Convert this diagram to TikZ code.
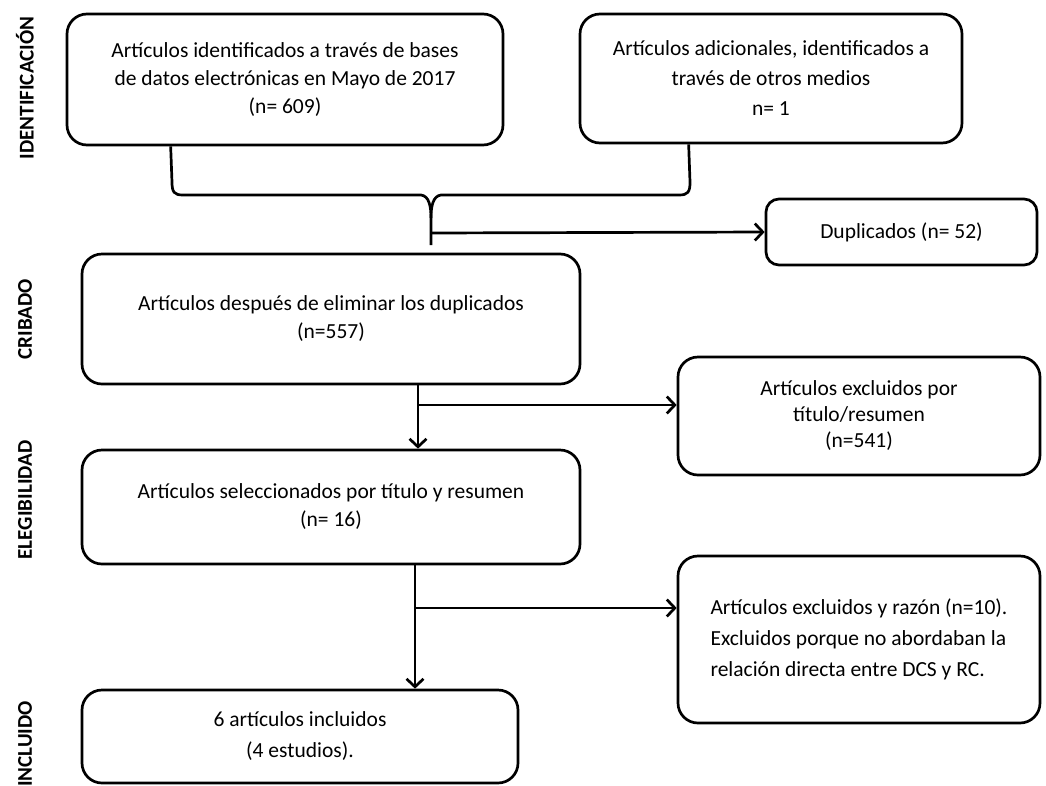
\documentclass[tikz,border=0pt]{standalone}
\usepackage{fontspec}
\setmainfont{Carlito}
\usetikzlibrary{arrows.meta}
\begin{document}
\begin{tikzpicture}[x=1pt,y=-1pt,
  box/.style={draw, line width=2.7pt, rounded corners=20pt, align=center,
    font=\fontsize{21.5}{28}\selectfont, inner sep=0pt},
  phase/.style={rotate=90, font=\bfseries\fontsize{21}{24}\selectfont, inner sep=0pt},
  conn/.style={line width=2.7pt},
  arr/.style={conn, -{Straight Barb[length=8pt,width=17pt,line width=2.7pt]}}]
\useasboundingbox (0,0) rectangle (1046,785);

% phase labels
\node[phase] (lid)  at (25,88)  {IDENTIFICACIÓN};
\node[phase] (lcr)  at (25,319) {CRIBADO};
\node[phase] (lel)  at (25,500) {ELEGIBILIDAD};
\node[phase] (lin)  at (25,744) {INCLUIDO};

% boxes
\node[box, minimum width=436pt, minimum height=131pt] (b1) at (285,79.5)
  {Artículos identificados a través de bases\\de datos electrónicas en Mayo de 2017\\(n= 609)};
\node[box, minimum width=382pt, minimum height=129pt, font=\fontsize{21.5}{30}\selectfont] (b2) at (771,78.5)
  {Artículos adicionales, identificados a\\través de otros medios\\n= 1};
\node[box, rounded corners=13pt, minimum width=271pt, minimum height=66pt] (dup) at (901.5,232)
  {Duplicados (n= 52)};
\node[box, minimum width=498pt, minimum height=130pt] (b3) at (331,319)
  {Artículos después de eliminar los duplicados\\(n=557)};
\node[box, minimum width=362pt, minimum height=118pt, font=\fontsize{21.5}{26}\selectfont] (b5) at (859,416)
  {Artículos excluidos por\\título/resumen\\(n=541)};
\node[box, minimum width=498pt, minimum height=114pt] (b4) at (331,507)
  {Artículos seleccionados por título y resumen\\(n= 16)};
\node[box, minimum width=362pt, minimum height=167pt, align=left, font=\fontsize{21.5}{31}\selectfont] (b7) at (859,639.5)
  {Artículos excluidos y razón (n=10).\\Excluidos porque no abordaban la\\relación directa entre DCS y RC.};
\node[box, minimum width=436pt, minimum height=93pt, font=\fontsize{21.5}{31}\selectfont] (b6) at (300,736.5)
  {6 artículos incluidos\\(4 estudios).};

% brace joining the two identification boxes
\coordinate (tip) at (431,245);
\coordinate (j1) at (431,233);
\draw[conn] ([xshift=105pt]b1.south west) -- (172,182)
  .. controls (172,192) and (174,195) .. (183,195) -- (421,195)
  .. controls (429,196) and (431,206) .. (431,218) -- (tip);
\draw[conn] ([xshift=110pt]b2.south west) -- (690,182)
  .. controls (690,192) and (688,195) .. (679,195) -- (441,195)
  .. controls (433,196) and (431,206) .. (431,218);
\draw[arr] (j1) -- (dup.west);

% screening to eligibility
\coordinate (j2) at (418,405);
\draw[arr] (b3.south -| j2) -- (b4.north -| j2);
\draw[arr] (j2) -- (b5.west |- j2);

% eligibility to included
\coordinate (j3) at (415,608);
\draw[arr] (b4.south -| j3) -- (b6.north -| j3);
\draw[arr] (j3) -- (b7.west |- j3);
\end{tikzpicture}
\end{document}
